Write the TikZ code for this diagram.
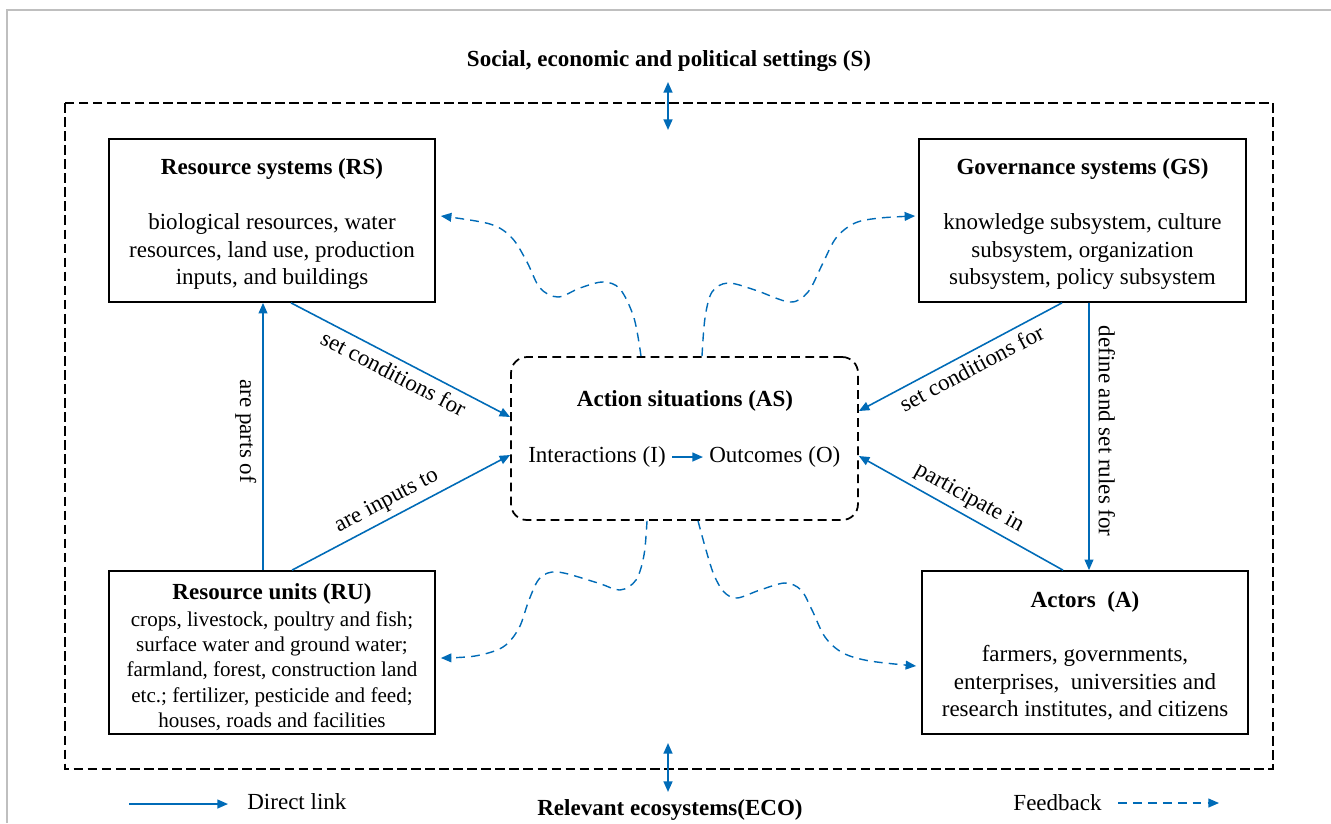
\documentclass[tikz,border=0pt]{standalone}
\usepackage{fontspec}
\setmainfont{Liberation Serif}
\usetikzlibrary{arrows.meta}
\definecolor{linkblue}{RGB}{0,107,183}
\newcommand{\boxstrut}{\rule{0pt}{13pt}}

\begin{document}
\begin{tikzpicture}[x=0.02cm, y=-0.02cm,
		font=\fontsize{13.1}{15.6}\selectfont,
		sysbox/.style={draw=black, line width=1pt, minimum width=6.52cm, minimum height=3.26cm, align=center, inner sep=0pt},
		linkarrow/.style={draw=linkblue, line width=0.9pt, -{Triangle[length=6pt,width=5pt]}},
		feedarrow/.style={draw=linkblue, line width=0.8pt, dash pattern=on 5pt off 3.5pt, -{Triangle[length=6pt,width=5pt]}},
		twoway/.style={draw=linkblue, line width=1pt, {Triangle[length=6pt,width=5pt]}-{Triangle[length=6pt,width=5pt]}}]
		\useasboundingbox (0,0) rectangle (1331,823);
		\draw [black!25, line width=0.8pt] (7,823) -- (7,10) -- (1331,10);
		\draw [line width=0.85pt, dash pattern=on 5.5pt off 2.5pt] (65,103) rectangle (1273,769);
		
		\node [sysbox] (rs) at (272,220.5) {\boxstrut\textbf{Resource systems (RS)}\\[16pt]biological resources, water\\resources, land use, production\\inputs, and buildings};
		\node [sysbox, minimum width=6.54cm] (gs) at (1082.5,220.5) {\boxstrut\textbf{Governance systems (GS)}\\[16pt]knowledge subsystem, culture\\subsystem, organization\\subsystem, policy subsystem};
		\node [sysbox, font=\fontsize{12}{14.4}\selectfont] (ru) at (272,652.5) {{\fontsize{13.1}{15}\selectfont\rule{0pt}{14pt}\textbf{Resource units (RU)}}\\[1pt]crops, livestock, poultry and fish;\\surface water and ground water;\\farmland, forest, construction land\\etc.; fertilizer, pesticide and feed;\\houses, roads and facilities};
		\node [sysbox] (act) at (1085,652.5) {\boxstrut\textbf{Actors~ (A)}\\[15pt]farmers, governments,\\enterprises,~ universities and\\research institutes, and citizens};
		
		\node [draw, line width=1pt, dash pattern=on 5pt off 3pt, rounded corners=9pt, minimum width=6.94cm, minimum height=3.26cm] (as) at (684.5,438.5) {};
		\node (astitle) at (685,401) {\textbf{Action situations (AS)}};
		\node [anchor=east, inner xsep=0.12cm] (inter) at (672,457) {Interactions (I)};
		\node [anchor=west, inner xsep=0.12cm] (outc) at (703,457) {Outcomes (O)};
		\draw [linkarrow] (inter) -- (outc);
		
		\node (stitle) at (669,61) {\textbf{Social, economic and political settings (S)}};
		\node (eco) at (670,810) {\textbf{Relevant ecosystems(ECO)}};
		\coordinate (s1) at (668,82);
		\coordinate (s2) at (668,130);
		\coordinate (e1) at (668,743);
		\coordinate (e2) at (668,792);
		\draw [twoway] (s1) -- (s2);
		\draw [twoway] (e1) -- (e2);
		
		\draw [linkarrow] ([xshift=-0.18cm]ru.north) -- node [pos=0.52, rotate=-90, below] {are parts of} ([xshift=-0.18cm]rs.south);
		\draw [linkarrow] ([xshift=0.38cm]rs.south) -- node [sloped, below] {set conditions for} ([yshift=0.43cm]as.west);
		\draw [linkarrow] ([xshift=0.4cm]ru.north) -- node [pos=0.47, sloped, above] {are inputs to} ([yshift=-0.33cm]as.west);
		\draw [linkarrow] ([xshift=-0.41cm]gs.south) -- node [pos=0.48, sloped, below] {set conditions for} ([yshift=0.55cm]as.east);
		\draw [linkarrow] ([xshift=0.13cm]gs.south) -- node [pos=0.48, rotate=-90, above, inner sep=5pt] {define and set rules for} ([xshift=0.08cm]act.north);
		\draw [linkarrow] ([xshift=-0.44cm]act.north) -- node [sloped, above] {participate in} ([yshift=-0.35cm]as.east);
		
		\coordinate (fa0) at ([xshift=-0.87cm]as.north);
		\coordinate (fa1) at ([xshift=0.1cm, yshift=0.09cm]rs.east);
		\coordinate (fb0) at ([xshift=0.35cm]as.north);
		\coordinate (fb1) at ([xshift=-0.06cm, yshift=0.09cm]gs.west);
		\coordinate (fc0) at ([xshift=-0.75cm]as.south);
		\coordinate (fc1) at ([xshift=0.1cm, yshift=-0.11cm]ru.east);
		\coordinate (fd0) at ([xshift=0.27cm]as.south);
		\coordinate (fd1) at ([xshift=-0.1cm, yshift=-0.27cm]act.west);
		\draw [feedarrow] plot [smooth, tension=0.55] coordinates {(fa0) (634,318) (620,289) (603,282) (580,288) (558,297) (540,288) (527,262) (512,238) (490,224) (fa1)};
		\draw [feedarrow] plot [smooth, tension=0.55] coordinates {(fb0) (705,318) (712,292) (728,283) (755,290) (790,302) (808,292) (822,265) (836,238) (855,223) (880,218) (fb1)};
		\draw [feedarrow] plot [smooth, tension=0.55] coordinates {(fc0) (644,555) (636,580) (620,590) (598,583) (558,572) (540,578) (529,600) (519,628) (503,647) (475,656) (fc1)};
		\draw [feedarrow] plot [smooth, tension=0.55] coordinates {(fd0) (706,550) (714,575) (724,592) (737,598) (760,590) (785,583) (801,590) (812,610) (825,637) (843,653) (870,661) (fd1)};
		
		\coordinate (dl0) at (129,804);
		\coordinate (dl1) at (228,804);
		\draw [linkarrow] (dl0) -- (dl1);
		\node [anchor=west, inner sep=0pt] (dltext) at (247,802) {Direct link};
		\node [anchor=east, inner sep=0pt] (fbtext) at (1102,803) {Feedback};
		\coordinate (fl0) at (1118,803);
		\coordinate (fl1) at (1219,803);
		\draw [feedarrow] (fl0) -- (fl1);
		
		\end{tikzpicture}
\end{document}
